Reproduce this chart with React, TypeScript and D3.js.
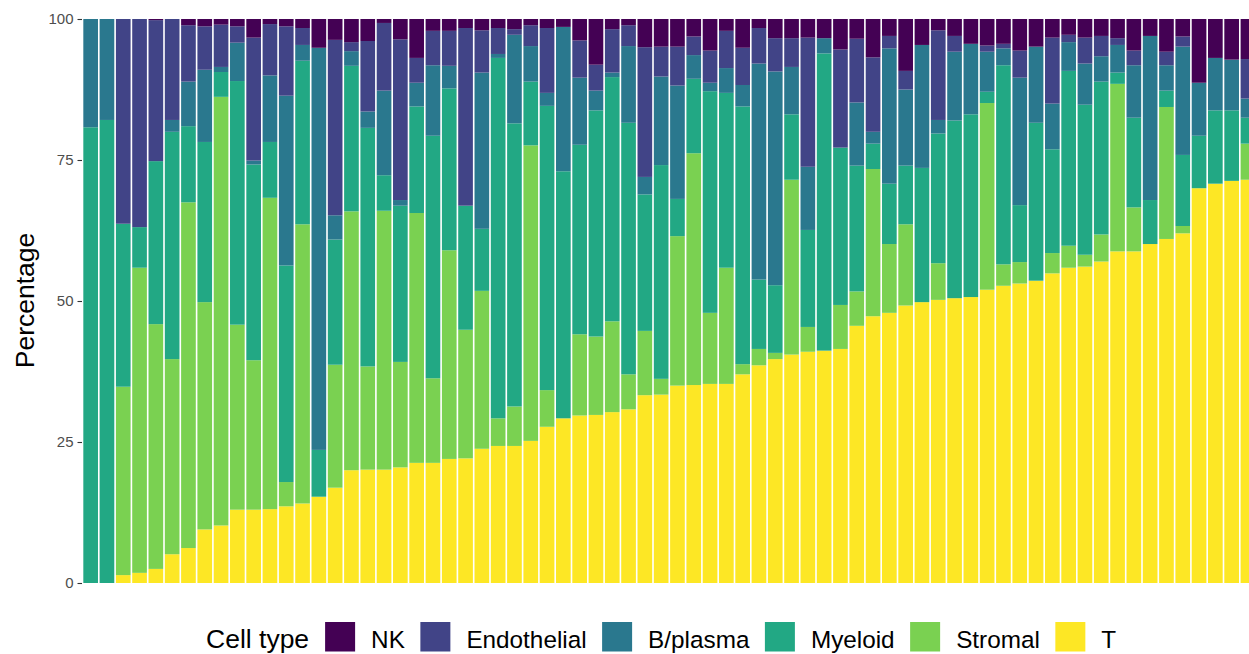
import { useEffect, useRef } from "react";
import * as d3 from "d3";

// share of each cell type per sample (percent), samples ordered by T share
const tVals = [0, 0, 1.4, 1.8, 2.5, 5.1, 6.2, 9.5, 10.2, 13.0, 13.0, 13.1, 13.6, 14.1, 15.3, 16.9, 20.0, 20.1, 20.1, 20.5, 21.3, 21.3, 22.0, 22.1, 23.8, 24.3, 24.3, 25.2, 27.7, 29.2, 29.7, 29.8, 30.3, 30.8, 33.3, 33.4, 35.0, 35.1, 35.3, 35.3, 37.0, 38.6, 39.7, 40.5, 41.0, 41.2, 41.5, 45.6, 47.3, 47.9, 49.2, 49.8, 50.2, 50.5, 50.7, 52.0, 52.7, 53.1, 53.6, 54.9, 55.9, 56.1, 57.0, 58.8, 58.8, 60.1, 61.0, 62.0, 70.0, 70.8, 71.3, 71.5];
const stromalVals = [0, 0, 33.4, 54.1, 43.4, 34.6, 61.3, 40.3, 76.0, 32.8, 26.5, 55.2, 4.3, 49.5, 0, 21.8, 45.9, 18.3, 45.9, 18.7, 44.3, 15.0, 37.0, 22.8, 28.0, 4.9, 7.0, 52.4, 6.5, 0, 14.4, 13.9, 16.1, 6.2, 11.4, 2.8, 26.5, 41.1, 12.6, 20.6, 1.8, 2.9, 1.1, 31.0, 4.4, 0, 7.8, 6.1, 26.1, 12.2, 14.4, 0, 6.5, 0, 0, 33.1, 3.8, 3.8, 0, 3.6, 3.9, 2.1, 4.8, 29.7, 7.8, 0, 23.4, 1.3, 0, 0, 0, 6.4];
const myeloidVals = [80.8, 82.1, 28.9, 7.2, 28.9, 40.3, 13.5, 28.4, 4.4, 43.2, 34.7, 9.9, 38.4, 29.0, 8.3, 22.2, 25.8, 42.3, 6.3, 27.7, 18.9, 43.0, 28.7, 22.0, 11.0, 63.9, 50.2, 11.3, 50.4, 43.8, 33.6, 40.1, 43.3, 44.6, 24.2, 37.9, 6.6, 13.2, 39.3, 31.0, 45.7, 12.3, 12.0, 11.6, 17.2, 52.7, 27.9, 22.3, 4.5, 10.7, 10.4, 23.8, 23.0, 31.5, 32.4, 2.0, 35.3, 10.1, 28.0, 18.4, 31.0, 26.6, 27.1, 2.0, 15.9, 7.8, 2.9, 12.6, 9.3, 13.0, 12.5, 4.6];
const bplasmaVals = [19.2, 17.9, 0, 0, 0, 2.1, 7.9, 12.8, 0.9, 6.8, 0.7, 11.8, 30.1, 2.8, 71.3, 4.3, 2.6, 2.9, 15.0, 1.0, 4.2, 12.5, 4.0, 0, 27.7, 0.7, 15.7, 6.3, 2.3, 25.6, 11.9, 3.5, 0.8, 13.6, 3.1, 15.7, 20.1, 4.2, 1.5, 4.4, 3.8, 38.3, 37.9, 8.4, 11.2, 2.7, 0, 11.2, 2.1, 24.0, 13.5, 21.8, 2.4, 12.2, 12.5, 7.1, 3.0, 22.6, 13.5, 8.1, 5.1, 7.3, 4.5, 4.9, 9.3, 29.1, 4.5, 19.2, 9.4, 9.3, 9.0, 3.4];
const endothelialVals = [0, 0, 36.3, 36.9, 25.0, 17.9, 10.0, 7.7, 7.5, 2.9, 21.8, 9.1, 12.3, 3.0, 0, 31.1, 1.6, 12.5, 12.0, 28.5, 4.4, 6.1, 6.2, 31.5, 7.5, 4.6, 1.0, 3.7, 11.5, 0, 6.6, 4.6, 7.7, 3.7, 23.0, 5.3, 6.9, 3.3, 5.7, 6.6, 6.6, 6.3, 5.9, 5.1, 22.9, 0, 17.4, 11.3, 13.2, 2.2, 3.3, 0, 15.9, 2.8, 0, 1.1, 0.8, 4.8, 0, 11.7, 1.3, 4.6, 3.6, 1.2, 2.6, 0, 2.4, 1.8, 0, 0, 0, 7.0];
const nkVals = [0, 0, 0, 0, 0.2, 0, 1.1, 1.3, 1.0, 1.3, 3.3, 0.9, 1.3, 1.6, 5.1, 3.7, 4.1, 3.9, 0.7, 3.6, 6.9, 2.1, 2.1, 1.6, 2.0, 1.6, 1.8, 1.1, 1.6, 1.4, 3.8, 8.1, 1.8, 1.1, 5.0, 4.9, 4.9, 3.1, 5.6, 2.1, 5.1, 1.6, 3.4, 3.4, 3.3, 3.4, 5.4, 3.5, 6.8, 3.0, 9.2, 4.6, 2.0, 3.0, 4.4, 4.7, 4.4, 5.6, 4.9, 3.3, 2.8, 3.3, 3.0, 3.4, 5.6, 3.0, 5.8, 3.1, 11.3, 6.9, 7.2, 7.1];

const cellTypes = ["NK", "Endothelial", "B/plasma", "Myeloid", "Stromal", "T"];
const cellColors = ["#440154", "#414487", "#2A788E", "#22A884", "#7AD151", "#FDE725"];
const yTicks = [0, 25, 50, 75, 100];

const App = () => {
    const chartRef = useRef<SVGSVGElement | null>(null);

    useEffect(() => {
        if (!chartRef.current) return;
        const svg = d3.select(chartRef.current);
        svg.selectAll("*").remove();

        const font = "'Liberation Sans', Arial, Helvetica, sans-serif";
        const n = tVals.length;
        const step = 16.3;
        const x0 = 82.5;

        const rows = tVals.map((t, i) => ({
            id: String(i),
            T: t,
            Stromal: stromalVals[i],
            Myeloid: myeloidVals[i],
            "B/plasma": bplasmaVals[i],
            Endothelial: endothelialVals[i],
            NK: nkVals[i],
        }));

        const xScale = d3
            .scaleBand()
            .domain(rows.map((r) => r.id))
            .range([x0, x0 + n * step])
            .paddingInner(0.1)
            .paddingOuter(0.05);

        const yScale = d3.scaleLinear().domain([0, 100]).range([583, 19]);

        const color = d3.scaleOrdinal<string, string>().domain(cellTypes).range(cellColors);

        const stackKeys = [...cellTypes].reverse();
        const series = d3.stack<any>().keys(stackKeys)(rows);

        // bars
        svg.append("g")
            .selectAll("g")
            .data(series)
            .enter()
            .append("g")
            .attr("fill", (d) => color(d.key))
            .selectAll("rect")
            .data((d) => d)
            .enter()
            .append("rect")
            .attr("x", (d: any) => xScale(d.data.id)!)
            .attr("width", xScale.bandwidth())
            .attr("y", (d) => yScale(d[1]))
            .attr("height", (d) => Math.max(0, yScale(d[0]) - yScale(d[1])));

        // y axis (ticks only)
        const yAxis = svg
            .append("g")
            .attr("transform", "translate(82,0)")
            .call(d3.axisLeft(yScale).tickValues(yTicks).tickSize(4.5).tickPadding(4));
        yAxis.select(".domain").remove();
        yAxis.selectAll("line").attr("stroke", "#333333").attr("stroke-width", 1.1);
        yAxis
            .selectAll("text")
            .attr("fill", "#4d4d4d")
            .style("font-family", font)
            .style("font-size", "15px");

        // y title
        svg.append("text")
            .attr("transform", "translate(34,300.5) rotate(-90)")
            .attr("text-anchor", "middle")
            .style("font-family", font)
            .style("font-size", "26.5px")
            .attr("fill", "#000")
            .text("Percentage");

        // legend
        const legend = svg.append("g");
        const title = legend
            .append("text")
            .attr("x", 206)
            .attr("y", 648)
            .style("font-family", font)
            .style("font-size", "26.5px")
            .text("Cell type");
        let cx = 206 + (title.node() as SVGTextElement).getComputedTextLength() + 16;
        cellTypes.forEach((ct) => {
            legend
                .append("rect")
                .attr("x", cx)
                .attr("y", 622)
                .attr("width", 30)
                .attr("height", 29.5)
                .attr("fill", color(ct));
            const lbl = legend
                .append("text")
                .attr("x", cx + 46)
                .attr("y", 648)
                .style("font-family", font)
                .style("font-size", "24.3px")
                .text(ct);
            cx += 46 + (lbl.node() as SVGTextElement).getComputedTextLength() + 15.5;
        });
    }, []);

    return (
        <svg
            ref={chartRef}
            width={1249}
            height={654}
            style={{ position: "absolute", left: 0, top: 0, background: "#fff" }}
        ></svg>
    );
};

export default App;
